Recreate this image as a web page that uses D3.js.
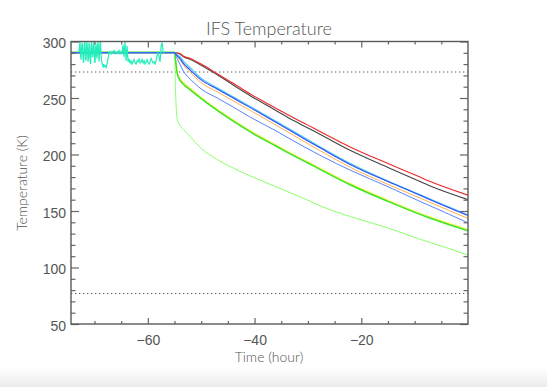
<!DOCTYPE html>
<html lang="en">
<head>
  <meta charset="UTF-8">
  <title>IFS Temperature</title>
  <script src="https://d3js.org/d3.v7.min.js"></script>
  <style>
    * { margin: 0; padding: 0; box-sizing: border-box; }
    body { background: #fff; }
    svg { display: block; font-family: Lato, 'DejaVu Sans', sans-serif; }
    .axis text { fill: #555; font-size: 14px; font-weight: 300; }
    .axis line { stroke: #666; stroke-width: 1.2; }
  </style>
</head>
<body>
  <svg id="chart" width="547" height="387"></svg>
  <script>
  // time knots (hours) shared by the cool-down curves
  var knotTimes = [-74.4, -55, -54.8, -54.5, -54, -53.3, -52, -50, -47, -44, -40.8, -36, -32.7, -30, -27.4, -22, -15, -9, -7.3, 0];

  var redValues    = [290, 290, 290, 289.8, 289.3, 287, 285, 280, 271.5, 263, 253.5, 241, 232.5, 226, 219.5, 206.5, 192, 180, 176.5, 164];
  var blackValues  = [290, 290, 290, 289.7, 289, 286.5, 284, 279, 270.5, 261.5, 252, 239, 230, 223.5, 217, 203.5, 188.5, 176, 172.5, 160];
  var cyanValues   = [290, 290, 289.5, 288.5, 286.5, 282.5, 276.5, 267.5, 259, 251, 242.5, 229.5, 220.5, 213, 206, 192, 176.5, 164.5, 161, 146.5];
  var blueValues   = [290, 290, 289, 287.5, 285, 280.5, 274.5, 266, 258, 250, 241.5, 228.5, 219.5, 212, 205, 191, 176, 164, 160.5, 146];
  var orangeValues = [290, 290, 289, 287, 284, 279, 272.5, 263.5, 255.5, 247.5, 239, 226, 217, 209.5, 202.5, 188.5, 173.5, 161.5, 158, 143.5];
  var midBlueValues= [290, 290, 288, 285, 280, 273.5, 266.5, 258, 250, 242, 233, 221, 212, 205, 198.5, 186, 171.5, 158.5, 155, 139.5];
  var yellowValues = [290, 290, 284, 273.5, 267.5, 263.5, 258.5, 250.5, 240, 230.5, 221, 208.5, 200, 193.5, 187, 174, 159.5, 148, 145, 133.5];
  var greenValues  = [290.5, 290.5, 283, 272, 266, 262, 257, 249.5, 239, 229.5, 220, 207.5, 199, 192.5, 186, 173, 158.5, 147, 144, 132.5];
  var lightGreenValues = [290, 290, 255, 231, 226, 222, 215.5, 205.5, 195.5, 188, 181, 171.5, 165, 159.5, 154, 145, 135, 125, 122.5, 111];

  // noisy warm-phase sensor trace: a dense stretch, then a coarser one
  var noiseDenseStart = -72.9;
  var noiseDenseStep = 0.0938;
  var noiseDenseValues = [291, 296, 300, 288, 284, 293, 299, 297, 286, 281, 290, 300, 298, 285, 283, 294, 300, 292, 282, 287,
    299, 296, 284, 280, 291, 300, 295, 286, 289, 297, 300, 283, 281, 292, 298, 288, 285, 296, 300, 293,
    282, 290, 299, 300, 289, 284, 281, 279, 278, 280, 277, 279];
  var noiseStart = -68.02;
  var noiseStep = 0.1876;
  var noiseValues = [279, 277, 280, 285, 290, 291, 289, 291, 290, 292, 290, 289, 291, 290, 292, 289, 291, 290, 297, 286,
    300, 283, 296, 282, 284, 281, 283, 280, 282, 284, 281, 280, 283, 282, 285, 281, 282, 284, 281, 283,
    280, 282, 284, 281, 280, 282, 285, 283, 281, 282, 280, 283, 288, 290, 286, 282, 296, 299, 291, 290];

  var limitLines = [273, 77];

  var xTicks = [-60, -40, -20];
  var yTicks = [50, 100, 150, 200, 250, 300];

  var svg = d3.select('#chart');

  // faint shadow at the bottom of the screenshot
  var defs = svg.append('defs');
  var grad = defs.append('linearGradient').attr('id', 'shade').attr('x1', 0).attr('y1', 0).attr('x2', 0).attr('y2', 1);
  grad.append('stop').attr('offset', '0%').attr('stop-color', '#ffffff');
  grad.append('stop').attr('offset', '100%').attr('stop-color', '#ebebeb');
  svg.append('rect').attr('x', 0).attr('y', 368).attr('width', 547).attr('height', 19).attr('fill', 'url(#shade)');

  var x = d3.scaleLinear().domain([-74.4, 0]).range([71, 468]);
  var y = d3.scaleLinear().domain([50, 300]).range([324, 41.5]);

  var plot = svg.append('g');
  plot.append('clipPath').attr('id', 'clip')
    .append('rect').attr('x', 71).attr('y', 41.5).attr('width', 397).attr('height', 282.5);

  // dotted limits
  plot.selectAll('line.limit')
    .data(limitLines)
    .join('line')
    .attr('class', 'limit')
    .attr('x1', x.range()[0]).attr('x2', x.range()[1])
    .attr('y1', function(d) { return y(d); }).attr('y2', function(d) { return y(d); })
    .attr('stroke', '#555').attr('stroke-width', 1).attr('stroke-dasharray', '1.3,2.7');

  var series = [
    { values: blackValues, color: '#444444', width: 1.1 },
    { values: redValues, color: '#f02828', width: 1.1 },
    { values: lightGreenValues, color: '#8cff6a', width: 1 },
    { values: yellowValues, color: '#f2f23a', width: 1.2 },
    { values: greenValues, color: '#3ae62a', width: 1.5 },
    { values: midBlueValues, color: '#5a82ff', width: 1 },
    { values: orangeValues, color: '#ffb050', width: 1 },
    { values: cyanValues, color: '#50c8ff', width: 1.2 },
    { values: blueValues, color: '#2a4cf0', width: 1.1 }
  ];

  var line = d3.line()
    .x(function(d) { return x(d[0]); })
    .y(function(d) { return y(d[1]); })
    .curve(d3.curveMonotoneX);

  var lines = plot.append('g').attr('clip-path', 'url(#clip)');

  lines.selectAll('path.curve')
    .data(series)
    .join('path')
    .attr('class', 'curve')
    .attr('fill', 'none')
    .attr('stroke', function(d) { return d.color; })
    .attr('stroke-width', function(d) { return d.width; })
    .attr('d', function(d) { return line(knotTimes.map(function(t, i) { return [t, d.values[i]]; })); });

  var noise = noiseDenseValues.map(function(v, i) { return [noiseDenseStart + i * noiseDenseStep, v]; })
    .concat(noiseValues.map(function(v, i) { return [noiseStart + i * noiseStep, v]; }));
  lines.append('path')
    .attr('fill', 'none')
    .attr('stroke', '#22eebb')
    .attr('stroke-width', 1.2)
    .attr('d', d3.line().x(function(d) { return x(d[0]); }).y(function(d) { return y(d[1]); })(noise));

  // axes (IDL style: ticks point inward, frame on all four sides)
  var minorX = d3.range(-70, 0, 5).filter(function(v) { return xTicks.indexOf(v) < 0; });
  var minorY = d3.range(60, 300, 10).filter(function(v) { return yTicks.indexOf(v) < 0; });

  svg.append('g').attr('class', 'axis').attr('transform', 'translate(0,324)')
    .call(d3.axisBottom(x).tickValues(xTicks).tickSizeInner(-6).tickSizeOuter(0).tickPadding(11));
  svg.append('g').attr('class', 'axis').attr('transform', 'translate(0,324)')
    .call(d3.axisBottom(x).tickValues(minorX).tickSizeInner(-3).tickSizeOuter(0).tickFormat(''));
  svg.append('g').attr('class', 'axis').attr('transform', 'translate(0,41.5)')
    .call(d3.axisTop(x).tickValues(xTicks).tickSizeInner(-6).tickSizeOuter(0).tickFormat(''));
  svg.append('g').attr('class', 'axis').attr('transform', 'translate(0,41.5)')
    .call(d3.axisTop(x).tickValues(minorX).tickSizeInner(-3).tickSizeOuter(0).tickFormat(''));

  var left = svg.append('g').attr('class', 'axis').attr('transform', 'translate(71,0)')
    .call(d3.axisLeft(y).tickValues(yTicks).tickSizeInner(-8).tickSizeOuter(0).tickPadding(5).tickFormat(d3.format('d')));
  svg.append('g').attr('class', 'axis').attr('transform', 'translate(71,0)')
    .call(d3.axisLeft(y).tickValues(minorY).tickSizeInner(-4.5).tickSizeOuter(0).tickFormat(''));
  svg.append('g').attr('class', 'axis').attr('transform', 'translate(468,0)')
    .call(d3.axisRight(y).tickValues(yTicks).tickSizeInner(-8).tickSizeOuter(0).tickFormat(''));
  svg.append('g').attr('class', 'axis').attr('transform', 'translate(468,0)')
    .call(d3.axisRight(y).tickValues(minorY).tickSizeInner(-4.5).tickSizeOuter(0).tickFormat(''));

  svg.selectAll('.axis .domain').remove();
  left.selectAll('text').attr('dy', '0.45em');

  svg.append('rect')
    .attr('x', 71).attr('y', 41.5).attr('width', 397).attr('height', 282.5)
    .attr('fill', 'none').attr('stroke', '#5a5a5a').attr('stroke-width', 1.4);

  // titles
  svg.append('text').attr('x', 269).attr('y', 35)
    .attr('text-anchor', 'middle').attr('fill', '#555').attr('font-size', 18).attr('font-weight', 300)
    .text('IFS Temperature');
  svg.append('text').attr('x', 269).attr('y', 362)
    .attr('text-anchor', 'middle').attr('fill', '#555').attr('font-size', 14).attr('font-weight', 300)
    .text('Time (hour)');
  svg.append('text').attr('transform', 'translate(27,183) rotate(-90)')
    .attr('text-anchor', 'middle').attr('fill', '#555').attr('font-size', 14).attr('font-weight', 300)
    .text('Temperature (K)');
  </script>
</body>
</html>
